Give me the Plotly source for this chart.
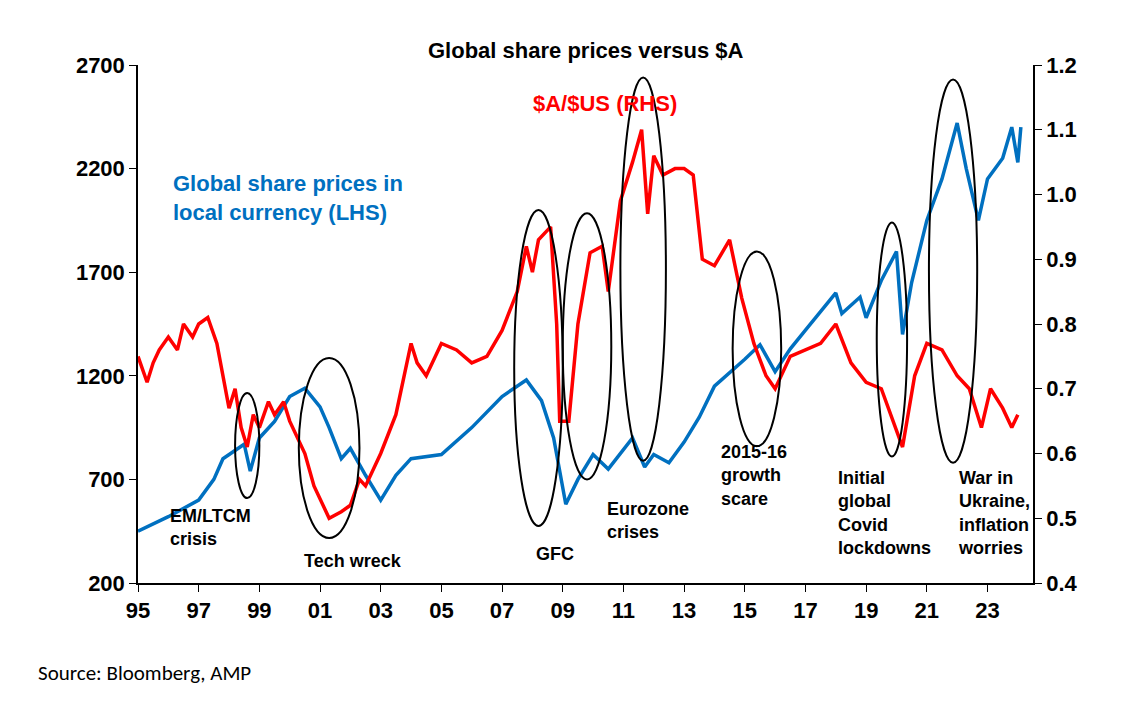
import plotly.graph_objects as go

# $A/$US (RHS)
aud_t = [1995.0, 1995.3, 1995.5, 1995.7, 1996.0, 1996.3, 1996.5, 1996.8, 1997.0, 1997.3, 1997.6, 1998.0,
         1998.2, 1998.4, 1998.6, 1998.8, 1999.0, 1999.3, 1999.5, 1999.8, 2000.0, 2000.5, 2000.8, 2001.1,
         2001.3, 2001.7, 2002.0, 2002.3, 2002.5, 2003.0, 2003.5, 2004.0, 2004.2, 2004.5, 2005.0, 2005.5,
         2006.0, 2006.5, 2007.0, 2007.5, 2007.8, 2008.0, 2008.2, 2008.6, 2008.8, 2008.9, 2009.2, 2009.5,
         2009.9, 2010.3, 2010.5, 2010.9, 2011.3, 2011.6, 2011.8, 2012.0, 2012.3, 2012.7, 2013.0, 2013.3,
         2013.6, 2014.0, 2014.5, 2014.9, 2015.3, 2015.7, 2016.0, 2016.5, 2017.0, 2017.5, 2018.0, 2018.5,
         2019.0, 2019.5, 2020.2, 2020.6, 2021.0, 2021.5, 2022.0, 2022.4, 2022.8, 2023.1, 2023.5, 2023.8,
         2024.0]
aud_v = [0.75, 0.71, 0.74, 0.76, 0.78, 0.76, 0.80, 0.78, 0.80, 0.81, 0.77, 0.67,
         0.70, 0.64, 0.61, 0.66, 0.64, 0.68, 0.66, 0.68, 0.65, 0.60, 0.55, 0.52,
         0.50, 0.51, 0.52, 0.56, 0.55, 0.60, 0.66, 0.77, 0.74, 0.72, 0.77, 0.76,
         0.74, 0.75, 0.79, 0.85, 0.92, 0.88, 0.93, 0.95, 0.80, 0.65, 0.65, 0.80,
         0.91, 0.92, 0.85, 0.99, 1.05, 1.10, 0.97, 1.06, 1.03, 1.04, 1.04, 1.03,
         0.90, 0.89, 0.93, 0.84, 0.77, 0.72, 0.70, 0.75, 0.76, 0.77, 0.80, 0.74,
         0.71, 0.70, 0.61, 0.72, 0.77, 0.76, 0.72, 0.70, 0.64, 0.70, 0.67, 0.64,
         0.66]

# Global share prices in local currency (LHS)
shr_t = [1995.0, 1996.0, 1997.0, 1997.5, 1997.8, 1998.5, 1998.7, 1999.0, 1999.5, 2000.0, 2000.5, 2001.0,
         2001.3, 2001.7, 2002.0, 2002.5, 2003.0, 2003.5, 2004.0, 2005.0, 2006.0, 2007.0, 2007.8, 2008.3,
         2008.7, 2009.1, 2009.5, 2010.0, 2010.5, 2011.3, 2011.7, 2012.0, 2012.5, 2013.0, 2013.5, 2014.0,
         2015.0, 2015.5, 2016.0, 2016.5, 2017.0, 2018.0, 2018.2, 2018.8, 2019.0, 2019.5, 2020.0, 2020.2,
         2020.5, 2021.0, 2021.5, 2022.0, 2022.3, 2022.7, 2023.0, 2023.5, 2023.8, 2024.0, 2024.1]
shr_v = [450, 520, 600, 700, 800, 870, 740, 900, 980, 1100, 1140, 1050,
         950, 800, 850, 720, 600, 720, 800, 820, 950, 1100, 1180, 1080,
         900, 580, 700, 820, 750, 900, 760, 820, 780, 880, 1000, 1150,
         1280, 1350, 1220, 1330, 1420, 1600, 1500, 1580, 1480, 1660, 1800, 1400,
         1650, 1950, 2150, 2420, 2200, 1950, 2150, 2250, 2400, 2230, 2400]

tick_years = list(range(1995, 2024, 2))
tick_text = [f"{y % 100:02d}" for y in tick_years]

# event ellipses: (x0, x1, y0, y1) in years / LHS units
ellipses = [(1998.2, 1999.0, 610, 1117), (2000.3, 2002.3, 417, 1286), (2007.4, 2009.0, 475, 2000),
            (2009.0, 2010.6, 700, 1985), (2010.9, 2012.4, 790, 2640), (2014.6, 2016.2, 860, 1800),
            (2019.35, 2020.35, 810, 1940), (2021.07, 2022.66, 780, 2630)]

labels = [(1996.0, 470, "EM/LTCM<br>crisis", "left"), (2002.1, 305, "Tech wreck", "center"),
          (2008.75, 340, "GFC", "center"), (2011.8, 500, "Eurozone<br>crises", "center"),
          (2015.3, 720, "2015-16<br>growth<br>scare", "center"),
          (2018.0, 540, "Initial<br>global<br>Covid<br>lockdowns", "left"),
          (2021.95, 540, "War in<br>Ukraine,<br>inflation<br>worries", "left")]

fig = go.Figure()
fig.add_trace(go.Scatter(x=aud_t, y=aud_v, mode="lines", line=dict(color="#ff0000", width=3.5), yaxis="y2"))
fig.add_trace(go.Scatter(x=shr_t, y=shr_v, mode="lines", line=dict(color="#0070c0", width=3.5)))

for x0, x1, y0, y1 in ellipses:
    fig.add_shape(type="circle", xref="x", yref="y", x0=x0, x1=x1, y0=y0, y1=y1,
                  line=dict(color="black", width=2))

lab_font = dict(family="Arial", size=18, color="black")
for x, y, t, anc in labels:
    fig.add_annotation(x=x, y=y, text=f"<b>{t}</b>", showarrow=False, font=lab_font,
                       xanchor=anc, yanchor="middle", align="left")

fig.add_annotation(x=2010.4, y=1.14, yref="y2", text="<b>$A/$US (RHS)</b>", showarrow=False,
                   font=dict(family="Arial", size=22, color="#ff0000"))
fig.add_annotation(x=1996.1, y=2060, text="<b>Global share prices in<br>local currency (LHS)</b>", showarrow=False,
                   xanchor="left", align="left", font=dict(family="Arial", size=22, color="#0070c0"))
fig.add_annotation(x=-0.114, y=-0.174, xref="paper", yref="paper", yanchor="middle", xanchor="left",
                   text="Source: Bloomberg, AMP", showarrow=False,
                   font=dict(family="Carlito, Calibri, Liberation Sans", size=21, color="black"))
fig.add_annotation(x=0.5, y=1.056, xref="paper", yref="paper", text="<b>Global share prices versus $A</b>",
                   showarrow=False, font=dict(family="Arial", size=22, color="black"))

tick_font = dict(family="Arial", size=22, color="black")
ax = dict(showgrid=False, zeroline=False, showline=True, linecolor="black", linewidth=1.5,
          ticks="outside", ticklen=7, tickcolor="black", tickfont=tick_font, automargin=False)
fig.update_layout(
    width=1146, height=707, showlegend=False,
    plot_bgcolor="white", paper_bgcolor="white",
    margin=dict(l=130, r=121, t=57, b=132),
    xaxis=dict(range=[1995, 2024.5], tickvals=tick_years, ticktext=[f"<b>{t}</b>" for t in tick_text], **ax),
    yaxis=dict(range=[200, 2700], tickvals=[200, 700, 1200, 1700, 2200, 2700],
               ticktext=[f"<b>{v}</b>" for v in [200, 700, 1200, 1700, 2200, 2700]], **ax),
    yaxis2=dict(range=[0.4, 1.2], overlaying="y", side="right",
                tickvals=[0.4, 0.5, 0.6, 0.7, 0.8, 0.9, 1.0, 1.1, 1.2],
                ticktext=[f"<b>{v:.1f}</b>" for v in [0.4, 0.5, 0.6, 0.7, 0.8, 0.9, 1.0, 1.1, 1.2]], **ax),
)
fig.write_html("out.html")
